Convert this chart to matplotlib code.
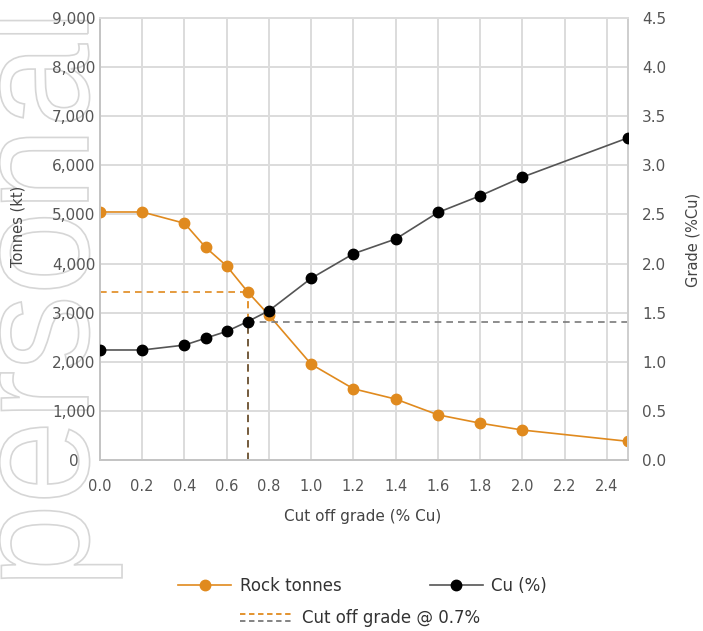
import matplotlib
matplotlib.use("Agg")
import matplotlib.pyplot as plt
import numpy as np
from matplotlib.lines import Line2D
from matplotlib.legend_handler import HandlerBase
from matplotlib.textpath import TextPath
from matplotlib.patches import PathPatch
from matplotlib.font_manager import FontProperties
from matplotlib.transforms import Affine2D

### Data

cutoff = [0.0, 0.2, 0.4, 0.5, 0.6, 0.7, 0.8, 1.0, 1.2, 1.4, 1.6, 1.8, 2.0, 2.5]
rock_tonnes = [5050, 5050, 4820, 4330, 3950, 3420, 2950, 1950, 1450, 1240, 920, 750, 610, 380]
cu_grade = [1.12, 1.12, 1.17, 1.24, 1.31, 1.41, 1.52, 1.85, 2.10, 2.25, 2.52, 2.69, 2.88, 3.28]

cog = 0.7
cog_tonnes = 3420
cog_grade = 1.41

tonnes_ticks = [0, 1000, 2000, 3000, 4000, 5000, 6000, 7000, 8000, 9000]
grade_ticks = [0.0, 0.5, 1.0, 1.5, 2.0, 2.5, 3.0, 3.5, 4.0, 4.5]
x_ticks = [0.0, 0.2, 0.4, 0.6, 0.8, 1.0, 1.2, 1.4, 1.6, 1.8, 2.0, 2.2, 2.4]

### Styles

orange = '#E08A1E'
line_grey = '#555555'
dash_grey = '#7a7a7a'
grid_col = '#dcdcdc'
tick_col = '#555555'
label_col = '#444444'

W, H = 703, 631
fig = plt.figure(figsize=(W / 100, H / 100), dpi=100)
ax = fig.add_axes([100 / W, 1 - 460 / H, 528 / W, 442 / H])
ax2 = ax.twinx()

# grid + spines
ax.set_xlim(0, 2.5)
ax.set_ylim(0, 9000)
ax2.set_ylim(0, 4.5)
ax.set_xticks(x_ticks)
ax.set_xticklabels([f"{v:.1f}" for v in x_ticks])
ax.set_yticks(tonnes_ticks)
ax.set_yticklabels([f"{v:,}" for v in tonnes_ticks])
ax2.set_yticks(grade_ticks)
ax2.set_yticklabels([f"{v:.1f}" for v in grade_ticks])
ax.grid(True, color=grid_col, lw=1.4)
ax.set_axisbelow(True)

for a in (ax, ax2):
    a.spines['top'].set_color(grid_col)
    a.spines['left'].set_color('#c4c4c4')
    a.spines['bottom'].set_color('#c4c4c4')
    a.spines['right'].set_color('#cfcfcf')
    for s in a.spines.values():
        s.set_linewidth(1.4)

ax.tick_params(axis='x', length=0, pad=14, labelsize=10.5, labelcolor=tick_col)
ax.tick_params(axis='y', length=0, pad=19, labelsize=11, labelcolor=tick_col)
for lbl in ax.get_yticklabels():
    lbl.set_horizontalalignment('center')
ax2.tick_params(axis='y', length=0, pad=10, labelsize=11, labelcolor=tick_col)

# series
ax.plot(cutoff, rock_tonnes, color=orange, lw=1.2, marker='o', ms=7.5, zorder=3)
ax2.plot(cutoff, cu_grade, color=line_grey, lw=1.2, marker='o', ms=7.5,
         markerfacecolor='black', markeredgecolor='black', zorder=3)

# cut off grade guides
ax.plot([0, cog], [cog_tonnes, cog_tonnes], color=orange, lw=1.2, ls=(0, (4, 3)), zorder=2)
ax.plot([cog, cog], [0, cog_tonnes], color=orange, lw=1.3, ls=(0, (4, 3)), zorder=2)
ax2.plot([cog, 2.5], [cog_grade, cog_grade], color=dash_grey, lw=1.2, ls=(0, (4, 3)), zorder=2)
ax2.plot([cog, cog], [0, cog_grade], color='#6b5a45', lw=1.3, ls=(0, (4, 3)), zorder=2)

# axis labels
fig.text(363 / W, 1 - 517 / H, "Cut off grade (% Cu)", ha='center', va='center',
         fontsize=11, color=label_col)
fig.text(18 / W, 1 - 226 / H, "Tonnes (kt)", rotation=90, ha='center', va='center',
         fontsize=10.5, color=label_col)
fig.text(693 / W, 1 - 240 / H, "Grade (%Cu)", rotation=90, ha='center', va='center',
         fontsize=10.5, color=label_col)


# legend
class StackedDash(HandlerBase):
    def create_artists(self, legend, orig_handle, xdescent, ydescent, width, height, fontsize, trans):
        top = Line2D([0, width], [height * 0.75] * 2, color=orange, lw=1.3, ls=(0, (3, 2)))
        bot = Line2D([0, width], [height * 0.2] * 2, color=dash_grey, lw=1.3, ls=(0, (3, 2)))
        top.set_transform(trans)
        bot.set_transform(trans)
        return [top, bot]


h_rock = Line2D([], [], color=orange, lw=1.2, marker='o', ms=7.5)
h_cu = Line2D([], [], color=line_grey, lw=1.2, marker='o', ms=7.5,
              markerfacecolor='black', markeredgecolor='black')
leg1 = fig.legend([h_rock, h_cu], ["Rock tonnes", "Cu (%)"], ncol=2, frameon=False,
                  loc='center left', bbox_to_anchor=(178 / W, 1 - 586 / H),
                  borderpad=0, borderaxespad=0, handlelength=3.2, handletextpad=0.5,
                  columnspacing=5.3, fontsize=12, labelcolor='#333333')
h_cog = Line2D([], [])
leg2 = fig.legend([h_cog], ["Cut off grade @ 0.7%"], frameon=False,
                  loc='center left', bbox_to_anchor=(240 / W, 1 - 618 / H),
                  borderpad=0, borderaxespad=0, handlelength=3.2, handletextpad=0.5,
                  fontsize=12, labelcolor='#333333', handler_map={h_cog: StackedDash()})

# outlined watermark down the left side
em_px = 164
tp = TextPath((0, 0), "personal", size=em_px, prop=FontProperties(family='Liberation Sans'))
wm_tr = Affine2D().scale(0.918, 1).rotate_deg(90).translate(88, 43)
wm = PathPatch(wm_tr.transform_path(tp), facecolor='none', edgecolor='#d6d6d6', lw=1.2,
               transform=Affine2D().scale(1 / 100) + fig.dpi_scale_trans, zorder=-1)
fig.add_artist(wm)

fig.savefig("out.png", dpi=100)
